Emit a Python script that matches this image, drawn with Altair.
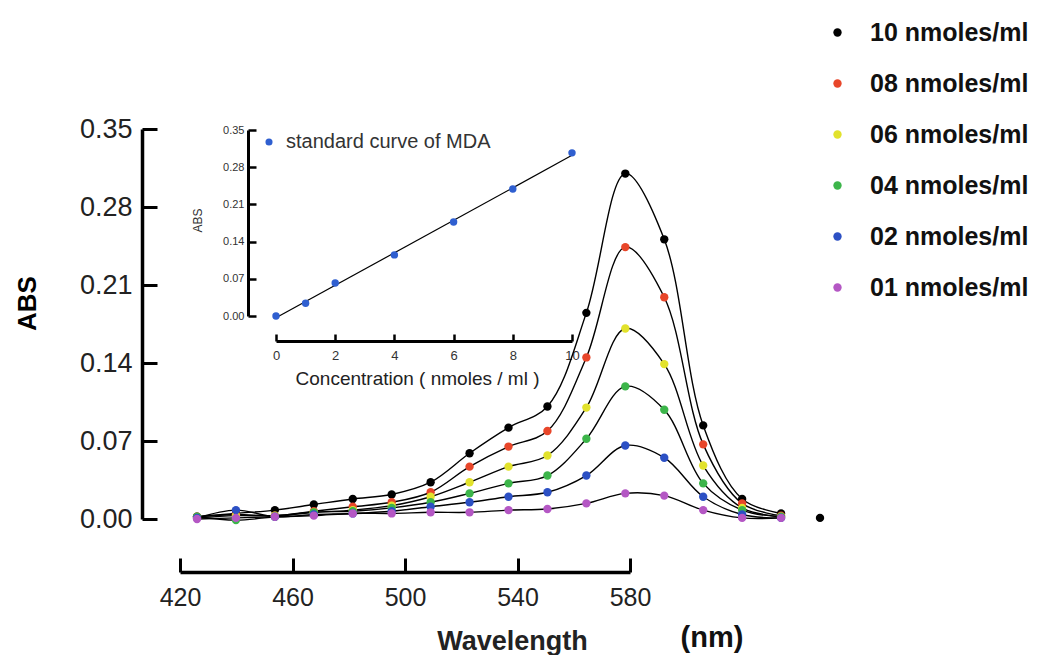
import altair as alt
import pandas as pd

FONT = "Liberation Sans"

# ---------------- data ----------------
wavelengths = [420, 430, 440, 450, 460, 470, 480, 490, 500, 510, 520, 530, 540, 550, 560, 570, 580]
series_names = ["10 nmoles/ml", "08 nmoles/ml", "06 nmoles/ml", "04 nmoles/ml", "02 nmoles/ml", "01 nmoles/ml"]
series_colors = ["#000000", "#e8462a", "#e2e22c", "#3cb54a", "#2c50c4", "#b457c4"]

abs_10 = [0.002, 0.005, 0.008, 0.013, 0.018, 0.022, 0.033, 0.059, 0.082, 0.101, 0.185, 0.310, 0.251, 0.084, 0.018, 0.005, 0.001]
abs_08 = [0.002, 0.004, 0.003, 0.007, 0.011, 0.015, 0.024, 0.047, 0.065, 0.079, 0.145, 0.244, 0.199, 0.067, 0.014, 0.003]
abs_06 = [0.001, 0.003, 0.003, 0.006, 0.008, 0.012, 0.020, 0.033, 0.047, 0.057, 0.100, 0.171, 0.139, 0.048, 0.010, 0.002]
abs_04 = [0.002, -0.001, 0.002, 0.006, 0.007, 0.010, 0.015, 0.023, 0.032, 0.039, 0.072, 0.119, 0.098, 0.032, 0.008, 0.002]
abs_02 = [0.001, 0.008, 0.002, 0.004, 0.005, 0.007, 0.011, 0.015, 0.020, 0.024, 0.039, 0.066, 0.055, 0.020, 0.004, 0.001]
abs_01 = [0.000, 0.001, 0.002, 0.003, 0.005, 0.005, 0.006, 0.006, 0.008, 0.009, 0.014, 0.023, 0.021, 0.008, 0.001, 0.001]
all_abs = [abs_10, abs_08, abs_06, abs_04, abs_02, abs_01]

main_ticks = [420, 460, 500, 540, 580]
abs_ticks = [0.0, 0.07, 0.14, 0.21, 0.28, 0.35]

inset_conc = [0, 1, 2, 4, 6, 8, 10]
inset_abs = [0.000, 0.024, 0.062, 0.115, 0.177, 0.239, 0.307]
inset_label = "standard curve of MDA"
inset_ticks = [0, 2, 4, 6, 8, 10]

rows = []
for name, vals in zip(series_names, all_abs):
    for w, v in zip(wavelengths, vals):
        rows.append({"series": name, "wavelength": w, "abs": v})
df = pd.DataFrame(rows)
inset_df = pd.DataFrame({"conc": inset_conc, "abs": inset_abs, "label": [inset_label] * len(inset_conc)})

# ---------------- layout ----------------
W, H = 895, 564

data_x = alt.Scale(domain=[420, 580], range=[55, 678], nice=False, zero=False)
main_y = alt.Scale(domain=[0, 0.35], range=[511, 121], nice=False, zero=False)

y_axis = alt.Axis(
    orient="right", offset=-W, values=abs_ticks, format=".2f", grid=False,
    tickSize=15, tickWidth=3, tickColor="black", domainColor="black", domainWidth=3.5,
    labelPadding=-25, labelAlign="right", labelBaseline="middle", labelFont=FONT,
    labelFontSize=27, labelColor="#222", labelOverlap=False, labelFlush=False,
    title="ABS", titleFont=FONT, titleFontSize=26, titleFontWeight="bold", titleColor="black",
    titleAngle=270, titleX=-115, titleY=295, titleAlign="center", titleBaseline="middle",
)

lines = alt.Chart(df).transform_filter(alt.datum.wavelength <= 570).mark_line(
    color="black", strokeWidth=1.4, interpolate="catmull-rom"
).encode(
    x=alt.X("wavelength:Q", scale=data_x, axis=None),
    y=alt.Y("abs:Q", scale=main_y, axis=y_axis),
    detail="series:N",
)

points = alt.Chart(df).mark_circle(size=70, opacity=1).encode(
    x=alt.X("wavelength:Q", scale=data_x, axis=None),
    y=alt.Y("abs:Q", scale=main_y, axis=y_axis),
    color=alt.Color(
        "series:N",
        scale=alt.Scale(domain=series_names, range=series_colors),
        legend=alt.Legend(
            orient="none", legendX=683, legendY=12, title=None, symbolType="circle",
            symbolSize=70, symbolStrokeWidth=0, labelFont=FONT, labelFontSize=25,
            labelFontWeight="bold", labelColor="#111", rowPadding=25, labelOffset=20,
            labelLimit=0,
        ),
    ),
)

main = alt.layer(lines, points)

x_axis_layer = alt.Chart(pd.DataFrame({"w": main_ticks})).mark_point(opacity=0).encode(
    x=alt.X(
        "w:Q",
        scale=alt.Scale(domain=[420, 580], range=[38, 488], nice=False, zero=False),
        axis=alt.Axis(
            orient="top", offset=-H, values=main_ticks, format="d", grid=False,
            tickSize=14, tickWidth=3, tickColor="black", domainColor="black", domainWidth=3.5,
            labelPadding=-39, labelBaseline="middle", labelAlign="center", labelFont=FONT,
            labelFontSize=25, labelColor="#222", labelFlush=False, labelOverlap=False,
            title="Wavelength", titleFont=FONT, titleFontSize=27, titleFontWeight="bold",
            titleColor="#222", titleX=370, titleY=69, titleAlign="center", titleBaseline="middle",
        ),
    )
)

inset_x = alt.Scale(domain=[0, 10], range=[134, 430], nice=False, zero=False)
inset_y = alt.Scale(domain=[0, 0.35], range=[308, 122], nice=False, zero=False)

inset_x_axis = alt.Axis(
    orient="top", offset=-333, values=inset_ticks, format="d", grid=False,
    tickSize=7, tickWidth=2.5, tickColor="black", domainColor="black", domainWidth=3,
    labelPadding=-21, labelBaseline="middle", labelAlign="center", labelFont=FONT,
    labelFontSize=13, labelColor="#333", labelFlush=False, labelOverlap=False,
    title="Concentration ( nmoles / ml )", titleFont=FONT, titleFontSize=19,
    titleFontWeight="normal", titleColor="#222", titleX=275, titleY=37,
    titleAlign="center", titleBaseline="middle",
)
inset_y_axis = alt.Axis(
    orient="right", offset=-(W - 106), values=abs_ticks, format=".2f", grid=False,
    tickSize=8, tickWidth=2.5, tickColor="black", domainColor="black", domainWidth=3,
    labelPadding=-12, labelAlign="right", labelBaseline="middle", labelFont=FONT,
    labelFontSize=11, labelColor="#333", labelOverlap=False, labelFlush=False,
    title="ABS", titleFont=FONT, titleFontSize=12, titleFontWeight="normal", titleColor="#333",
    titleAngle=270, titleX=-51, titleY=212, titleAlign="center", titleBaseline="middle",
)

inset_line = alt.Chart(inset_df).transform_regression(
    "conc", "abs", extent=[0, 10]
).mark_line(color="black", strokeWidth=1.2).encode(
    x=alt.X("conc:Q", scale=inset_x, axis=inset_x_axis),
    y=alt.Y("abs:Q", scale=inset_y, axis=inset_y_axis),
)
inset_pts = alt.Chart(inset_df).mark_circle(size=55, opacity=1).encode(
    x=alt.X("conc:Q", scale=inset_x, axis=inset_x_axis),
    y=alt.Y("abs:Q", scale=inset_y, axis=inset_y_axis),
    fill=alt.Fill(
        "label:N",
        scale=alt.Scale(domain=[inset_label], range=["#2f5fd0"]),
        legend=alt.Legend(
            orient="none", legendX=117, legendY=124, title=None, symbolType="circle",
            symbolSize=50, labelFont=FONT, labelFontSize=20, labelColor="#333", labelOffset=7,
            labelLimit=0,
        ),
    ),
)
inset = alt.layer(inset_line, inset_pts)

nm_text = alt.Chart(pd.DataFrame({"t": ["(nm)"]})).mark_text(
    font=FONT, fontSize=29, fontWeight="bold", align="center", baseline="middle", color="#111"
).encode(text="t:N", x=alt.value(570), y=alt.value(630))

chart = alt.layer(main, x_axis_layer, inset, nm_text).resolve_scale(
    x="independent", y="independent"
).properties(
    width=W, height=H,
    autosize=alt.AutoSizeParams(type="none"),
    padding={"left": 134, "top": 0, "right": 0, "bottom": 83},
).configure_view(stroke=None)

chart.save("out.html", embed_options={"renderer": "svg", "actions": False})
